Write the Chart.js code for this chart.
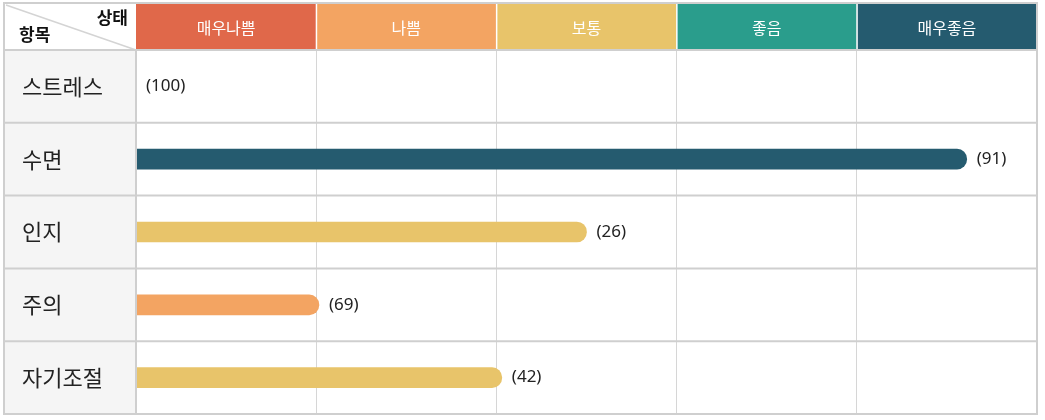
<!DOCTYPE html>
<html>
<head>
<meta charset="utf-8">
<script src="https://cdn.jsdelivr.net/npm/chart.js@4"></script>
<style>
  html, body { margin: 0; padding: 0; background: #fff; }
  #wrap { width: 1045px; height: 420px; }
</style>
</head>
<body>
<div id="wrap"><canvas id="chart" width="1045" height="420"></canvas></div>
<script>
// Data
const items = ["스트레스", "수면", "인지", "주의", "자기조절"];
const levels = ["매우나쁨", "나쁨", "보통", "좋음", "매우좋음"];
const levelScores = [0, 92.2, 50, 20.3, 40.6];
const rawScores = [100, 91, 26, 69, 42];
const levelTicks = [0, 20, 40, 60, 80, 100];

// Style
const levelColors = ["#E0684A", "#F3A462", "#E8C46A", "#2A9D8C", "#255B6F"];
const FONT = "'Noto Sans CJK KR', 'Noto Sans', sans-serif";
const LINE = "#cfcfcf";

function levelOf(v) {
    return Math.min(Math.floor(v / 20), levels.length - 1);
}

// ----------------------
// Table frame: header row, left column, row lines
// ----------------------
const tablePlugin = {
    id: "table",
    beforeDraw(chart) {
        const ctx = chart.ctx;
        const area = chart.chartArea;
        const x = chart.scales.x;
        const left = 4, top = 3;

        ctx.save();
        // left column background
        ctx.fillStyle = "#f5f5f5";
        ctx.fillRect(left, area.top, x.left - left, area.bottom - area.top);

        // header bands
        ctx.font = "16px " + FONT;
        ctx.textAlign = "center";
        ctx.textBaseline = "middle";
        levels.forEach((name, i) => {
            const x0 = x.getPixelForValue(levelTicks[i]);
            const x1 = x.getPixelForValue(levelTicks[i + 1]);
            ctx.fillStyle = levelColors[i];
            ctx.fillRect(x0, top, x1 - x0, area.top - top);
            ctx.fillStyle = "#ffffff";
            ctx.fillText(name, (x0 + x1) / 2, (top + area.top) / 2 + 1);
            if (i > 0) {
                ctx.fillRect(x0 - 0.5, top, 1.5, area.top - top);
            }
        });

        // corner cell
        ctx.strokeStyle = "#d4d4d4";
        ctx.lineWidth = 1.5;
        ctx.beginPath();
        ctx.moveTo(left + 2, top + 2);
        ctx.lineTo(x.left, area.top);
        ctx.stroke();
        ctx.fillStyle = "#111";
        ctx.font = "bold 17px " + FONT;
        ctx.textAlign = "right";
        ctx.fillText("상태", x.left - 8, top + 15);
        ctx.textAlign = "left";
        ctx.fillText("항목", left + 15, top + 32);
        ctx.restore();
    },
    afterDraw(chart) {
        const ctx = chart.ctx;
        const area = chart.chartArea;
        const x = chart.scales.x;
        const y = chart.scales.y;
        const left = 4, top = 3, right = x.right;
        const half = (y.getPixelForValue(1) - y.getPixelForValue(0)) / 2;

        ctx.save();
        ctx.strokeStyle = LINE;
        ctx.lineWidth = 2;
        // row lines
        for (let i = 0; i < items.length; i++) {
            const yy = y.getPixelForValue(i) - half;
            ctx.beginPath();
            ctx.moveTo(left, yy);
            ctx.lineTo(right, yy);
            ctx.stroke();
        }
        // left column border
        ctx.beginPath();
        ctx.moveTo(x.left, area.top);
        ctx.lineTo(x.left, area.bottom);
        ctx.stroke();
        // outer border
        ctx.strokeRect(left, top, right - left, area.bottom - top);
        ctx.restore();
    }
};

// ----------------------
// Raw score labels next to bars
// ----------------------
const valueLabels = {
    id: "valueLabels",
    afterDatasetsDraw(chart) {
        const ctx = chart.ctx;
        const meta = chart.getDatasetMeta(0);
        ctx.save();
        ctx.font = "17px 'Noto Sans', 'Open Sans', sans-serif";
        ctx.fillStyle = "#222";
        ctx.textAlign = "left";
        ctx.textBaseline = "middle";
        meta.data.forEach((bar, i) => {
            ctx.fillText("(" + rawScores[i] + ")", bar.x + 10, bar.y);
        });
        ctx.restore();
    }
};

const myChart = new Chart(document.getElementById("chart").getContext("2d"), {
    type: "bar",
    data: {
        labels: items,
        datasets: [{
            data: levelScores,
            backgroundColor: levelScores.map(v => levelColors[levelOf(v)]),
            barThickness: 20,
            borderRadius: 10,
            borderSkipped: "start"
        }]
    },
    options: {
        indexAxis: "y",
        responsive: false,
        animation: false,
        layout: { padding: { left: 22, top: 50, right: 8, bottom: 6 } },
        plugins: {
            legend: { display: false },
            tooltip: { enabled: false }
        },
        scales: {
            x: {
                min: 0,
                max: 100,
                ticks: { display: false, stepSize: 20 },
                grid: { color: "#d6d6d6", lineWidth: 1, drawTicks: false },
                border: { display: false },
                afterFit(scale) { scale.height = 0; }
            },
            y: {
                ticks: {
                    crossAlign: "far",
                    padding: 0,
                    color: "#222",
                    font: { family: FONT, size: 22 }
                },
                grid: { display: false, drawTicks: false },
                border: { display: false },
                afterFit(scale) {
                    scale.width = 114;
                    scale.paddingTop = 0;
                    scale.paddingBottom = 0;
                }
            }
        }
    },
    plugins: [tablePlugin, valueLabels]
});
</script>
</body>
</html>
